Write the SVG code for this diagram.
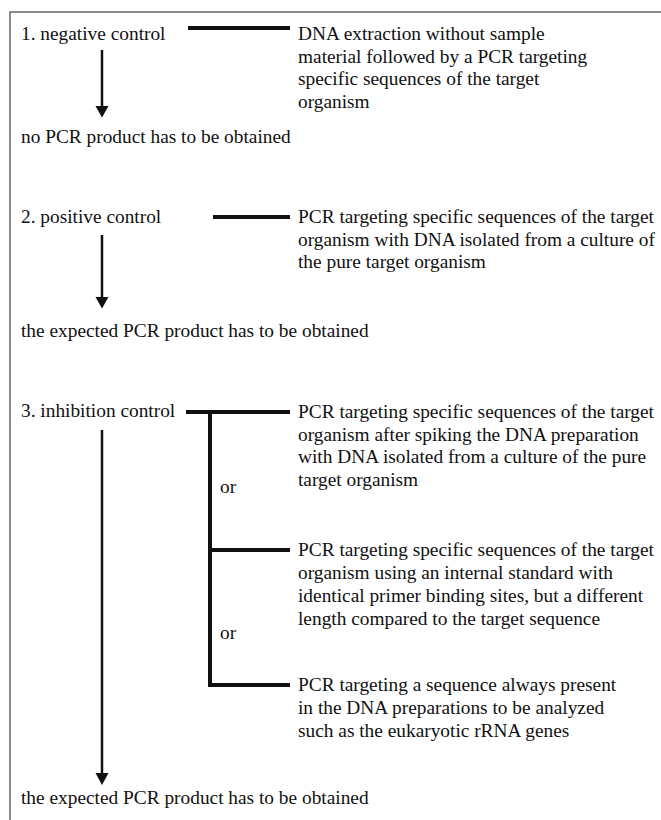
<svg xmlns="http://www.w3.org/2000/svg" width="661" height="820" viewBox="0 0 661 820">
<defs>
<style>
text{font-family:"Liberation Serif","Times New Roman",serif;font-size:19.35px;fill:#111}
.bar{stroke:#111;stroke-width:4;fill:none}
.shaft{stroke:#111;stroke-width:2.5;fill:none}
.head{fill:#111}
.frame{stroke:#666;stroke-width:1.5;fill:none}
</style>
</defs>
<rect width="661" height="820" fill="#fff"/>
<path class="frame" d="M10,830 L10,12 L670,12"/>
<g id="connectors">
<line class="bar" x1="188" y1="28" x2="290" y2="28"/>
<line class="shaft" x1="102" y1="50" x2="102" y2="107"/>
<polygon class="head" points="95.5,106 108.5,106 102,117.5"/>
<line class="bar" x1="213" y1="217" x2="290" y2="217"/>
<line class="shaft" x1="102" y1="235" x2="102" y2="298"/>
<polygon class="head" points="95.5,297 108.5,297 102,308.5"/>
<line class="bar" x1="186" y1="412" x2="290" y2="412"/>
<line class="bar" x1="210" y1="410" x2="210" y2="687"/>
<line class="bar" x1="208" y1="550" x2="290" y2="550"/>
<line class="bar" x1="208" y1="685" x2="290" y2="685"/>
<line class="shaft" x1="102" y1="430" x2="102" y2="774"/>
<polygon class="head" points="95.5,773 108.5,773 102,785"/>
</g>
<g id="neg">
<text x="21" y="40">1. negative control</text>
</g>
<g id="neg-desc">
<text x="298" y="40">DNA extraction without sample</text>
<text x="298" y="62.5">material followed by a PCR targeting</text>
<text x="298" y="85">specific sequences of the target</text>
<text x="298" y="107.5">organism</text>
</g>
<g id="neg-result">
<text x="21" y="143">no PCR product has to be obtained</text>
</g>
<g id="pos">
<text x="21" y="223">2. positive control</text>
</g>
<g id="pos-desc">
<text x="298" y="223">PCR targeting specific sequences of the target</text>
<text x="298" y="245.5">organism with DNA isolated from a culture of</text>
<text x="298" y="268">the pure target organism</text>
</g>
<g id="pos-result">
<text x="21" y="337">the expected PCR product has to be obtained</text>
</g>
<g id="inh">
<text x="21" y="417">3. inhibition control</text>
</g>
<g id="inh-a">
<text x="298" y="418">PCR targeting specific sequences of the target</text>
<text x="298" y="440.5">organism after spiking the DNA preparation</text>
<text x="298" y="463">with DNA isolated from a culture of the pure</text>
<text x="298" y="485.5">target organism</text>
</g>
<g id="or1"><text x="220" y="493">or</text></g>
<g id="inh-b">
<text x="298" y="556">PCR targeting specific sequences of the target</text>
<text x="298" y="579">organism using an internal standard with</text>
<text x="298" y="602">identical primer binding sites, but a different</text>
<text x="298" y="625">length compared to the target sequence</text>
</g>
<g id="or2"><text x="220" y="639">or</text></g>
<g id="inh-c">
<text x="298" y="691">PCR targeting a sequence always present</text>
<text x="298" y="714">in the DNA preparations to be analyzed</text>
<text x="298" y="737">such as the eukaryotic rRNA genes</text>
</g>
<g id="inh-result">
<text x="21" y="804">the expected PCR product has to be obtained</text>
</g>
</svg>
